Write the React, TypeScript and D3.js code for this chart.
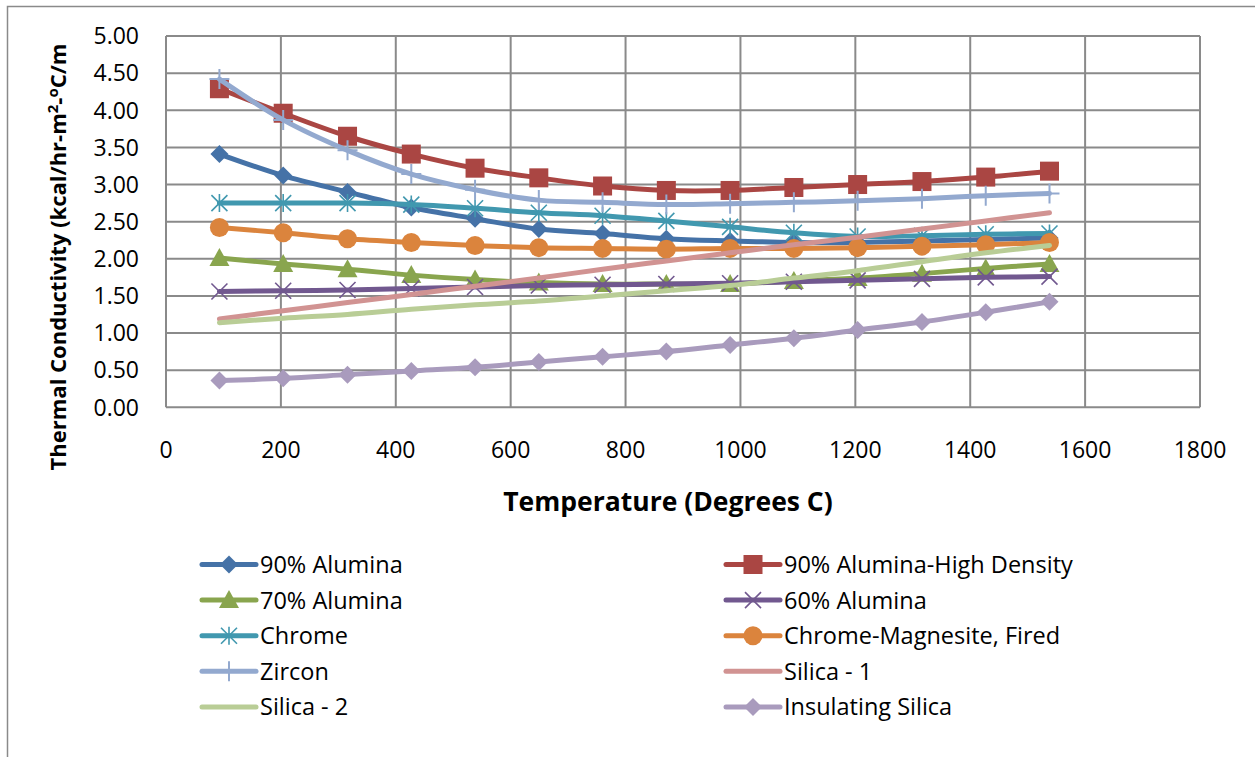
import * as d3 from "d3";
import { useEffect, useRef } from "react";

// temperatures (deg C) of the 14 readings
const temps = [93, 204, 316, 427, 538, 649, 760, 871, 982, 1093, 1204, 1316, 1427, 1538];

const alumina90 = [3.41, 3.12, 2.9, 2.69, 2.54, 2.4, 2.34, 2.27, 2.24, 2.22, 2.22, 2.24, 2.26, 2.28];
const alumina90HD = [4.29, 3.96, 3.65, 3.41, 3.22, 3.09, 2.98, 2.92, 2.92, 2.96, 3.0, 3.04, 3.1, 3.18];
const alumina70 = [2.01, 1.93, 1.86, 1.78, 1.72, 1.68, 1.66, 1.66, 1.66, 1.7, 1.74, 1.8, 1.87, 1.93];
const alumina60 = [1.56, 1.57, 1.58, 1.6, 1.62, 1.64, 1.65, 1.66, 1.67, 1.69, 1.71, 1.73, 1.75, 1.76];
const chrome = [2.75, 2.75, 2.75, 2.73, 2.68, 2.62, 2.58, 2.51, 2.43, 2.35, 2.3, 2.31, 2.33, 2.34];
const chromeMag = [2.42, 2.35, 2.27, 2.22, 2.18, 2.15, 2.14, 2.13, 2.14, 2.14, 2.15, 2.17, 2.19, 2.22];
const zircon = [4.42, 3.87, 3.46, 3.14, 2.93, 2.79, 2.76, 2.73, 2.74, 2.76, 2.78, 2.81, 2.85, 2.88];
const silica1 = [1.19, 1.3, 1.41, 1.52, 1.63, 1.74, 1.86, 1.97, 2.08, 2.19, 2.29, 2.4, 2.51, 2.62];
const silica2 = [1.14, 1.2, 1.25, 1.32, 1.38, 1.43, 1.5, 1.57, 1.64, 1.74, 1.84, 1.96, 2.08, 2.18];
const insulSilica = [0.36, 0.39, 0.44, 0.49, 0.54, 0.61, 0.68, 0.75, 0.84, 0.93, 1.04, 1.15, 1.28, 1.42];

const xTicks = [0, 200, 400, 600, 800, 1000, 1200, 1400, 1600, 1800];
const yTicks = [0, 0.5, 1, 1.5, 2, 2.5, 3, 3.5, 4, 4.5, 5];

type Marker = "diamond" | "square" | "triangle" | "x" | "star" | "circle" | "plus" | "none";

const series: { name: string; values: number[]; color: string; marker: Marker }[] = [
  { name: "90% Alumina", values: alumina90, color: "#4572A7", marker: "diamond" },
  { name: "90% Alumina-High Density", values: alumina90HD, color: "#AA4643", marker: "square" },
  { name: "70% Alumina", values: alumina70, color: "#89A54E", marker: "triangle" },
  { name: "60% Alumina", values: alumina60, color: "#71588F", marker: "x" },
  { name: "Chrome", values: chrome, color: "#4198AF", marker: "star" },
  { name: "Chrome-Magnesite, Fired", values: chromeMag, color: "#DB843D", marker: "circle" },
  { name: "Zircon", values: zircon, color: "#93A9CF", marker: "plus" },
  { name: "Silica - 1", values: silica1, color: "#D19392", marker: "none" },
  { name: "Silica - 2", values: silica2, color: "#B9CD96", marker: "none" },
  { name: "Insulating Silica", values: insulSilica, color: "#A99BBD", marker: "diamond" },
];

const FONT = "'Open Sans', 'Noto Sans', sans-serif";
const GRID = "#8a8a8a";

function drawMarker(g: any, kind: Marker, color: string) {
  if (kind === "diamond") {
    g.append("path").attr("d", "M0,-9L9,0L0,9L-9,0Z").attr("fill", color);
  } else if (kind === "square") {
    g.append("rect").attr("x", -9.5).attr("y", -9.5).attr("width", 19).attr("height", 19).attr("fill", color);
  } else if (kind === "triangle") {
    g.append("path").attr("d", "M0,-10L10,8L-10,8Z").attr("fill", color);
  } else if (kind === "circle") {
    g.append("circle").attr("r", 9.5).attr("fill", color);
  } else if (kind === "x") {
    g.append("path").attr("d", "M-8,-8L8,8M-8,8L8,-8").attr("stroke", color).attr("stroke-width", 1.6);
  } else if (kind === "star") {
    g.append("path")
      .attr("d", "M-8,-8L8,8M-8,8L8,-8M0,-9L0,9")
      .attr("stroke", color)
      .attr("stroke-width", 1.6);
  } else if (kind === "plus") {
    g.append("path").attr("d", "M0,-10L0,10M-10,0L10,0").attr("stroke", color).attr("stroke-width", 2);
  }
}

export default function App() {
  const svgRef = useRef<SVGSVGElement | null>(null);

  useEffect(() => {
    const width = 1255;
    const height = 757;
    const left = 166;
    const right = 1200;
    const top = 36;
    const bottom = 407.3;

    const svg = d3.select(svgRef.current);
    svg.selectAll("*").remove();

    const x = d3.scaleLinear().domain([0, 1800]).range([left, right]);
    const y = d3.scaleLinear().domain([0, 5]).range([bottom, top]);

    svg.append("rect").attr("width", width).attr("height", height).attr("fill", "#fff");

    // chart area border (runs off the right and bottom edge)
    svg
      .append("path")
      .attr("d", `M7.5,${height + 5}L7.5,6.5L${width + 5},6.5`)
      .attr("fill", "none")
      .attr("stroke", GRID)
      .attr("stroke-width", 1.5);

    // grid
    const grid = svg.append("g");
    grid
      .selectAll("line.h")
      .data(yTicks)
      .join("line")
      .attr("x1", left)
      .attr("x2", right)
      .attr("y1", (d) => y(d))
      .attr("y2", (d) => y(d))
      .attr("stroke", GRID)
      .attr("stroke-width", 2);
    grid
      .selectAll("line.v")
      .data(xTicks)
      .join("line")
      .attr("y1", top)
      .attr("y2", bottom)
      .attr("x1", (d) => x(d))
      .attr("x2", (d) => x(d))
      .attr("stroke", GRID)
      .attr("stroke-width", 2);

    // tick labels
    svg
      .append("g")
      .selectAll("text")
      .data(yTicks)
      .join("text")
      .attr("x", 139)
      .attr("y", (d) => y(d))
      .attr("dy", "0.36em")
      .attr("text-anchor", "end")
      .style("font", `23px ${FONT}`)
      .text((d) => d3.format(".2f")(d));

    svg
      .append("g")
      .selectAll("text")
      .data(xTicks)
      .join("text")
      .attr("x", (d) => x(d))
      .attr("y", 458)
      .attr("text-anchor", "middle")
      .style("font", `23px ${FONT}`)
      .text((d) => d);

    // axis titles
    svg
      .append("text")
      .attr("x", 668)
      .attr("y", 511)
      .attr("text-anchor", "middle")
      .style("font", `bold 26.5px ${FONT}`)
      .text("Temperature (Degrees C)");

    const yTitle = svg
      .append("text")
      .attr("transform", "translate(66,257) rotate(-90)")
      .attr("text-anchor", "middle")
      .style("font", `bold 22px ${FONT}`);
    yTitle.append("tspan").text("Thermal Conductivity (kcal/hr-m");
    yTitle.append("tspan").attr("dy", -8).style("font-size", "15px").text("2");
    yTitle.append("tspan").attr("dy", 8).text("-");
    yTitle.append("tspan").attr("dy", -8).style("font-size", "15px").text("o");
    yTitle.append("tspan").attr("dy", 8).text("C/m");

    // series
    const line = d3
      .line<number>()
      .x((_, i) => x(temps[i]))
      .y((d) => y(d))
      .curve(d3.curveCatmullRom.alpha(0.5));

    const plot = svg.append("g");
    series.forEach((s) => {
      plot
        .append("path")
        .attr("d", line(s.values))
        .attr("fill", "none")
        .attr("stroke", s.color)
        .attr("stroke-width", 5)
        .attr("stroke-linejoin", "round")
        .attr("stroke-linecap", "round");
      if (s.marker !== "none") {
        s.values.forEach((v, i) => {
          const m = plot.append("g").attr("transform", `translate(${x(temps[i])},${y(v)})`);
          drawMarker(m, s.marker, s.color);
        });
      }
    });

    // legend, two columns
    const legend = svg.append("g");
    series.forEach((s, i) => {
      const col = i % 2;
      const row = Math.floor(i / 2);
      const lx = col === 0 ? 202 : 726;
      const ly = 564.5 + row * 35.6;
      const g = legend.append("g").attr("transform", `translate(${lx},${ly})`);
      g.append("line")
        .attr("x1", 0)
        .attr("x2", 54)
        .attr("stroke", s.color)
        .attr("stroke-width", 5)
        .attr("stroke-linecap", "round");
      const m = g.append("g").attr("transform", "translate(27,0)");
      drawMarker(m, s.marker, s.color);
      g.append("text")
        .attr("x", 58)
        .attr("dy", "0.36em")
        .style("font", `23.5px ${FONT}`)
        .text(s.name);
    });
  }, []);

  return (
    <svg
      ref={svgRef}
      width={1255}
      height={757}
      style={{ position: "absolute", left: 0, top: 0, display: "block" }}
    />
  );
}
